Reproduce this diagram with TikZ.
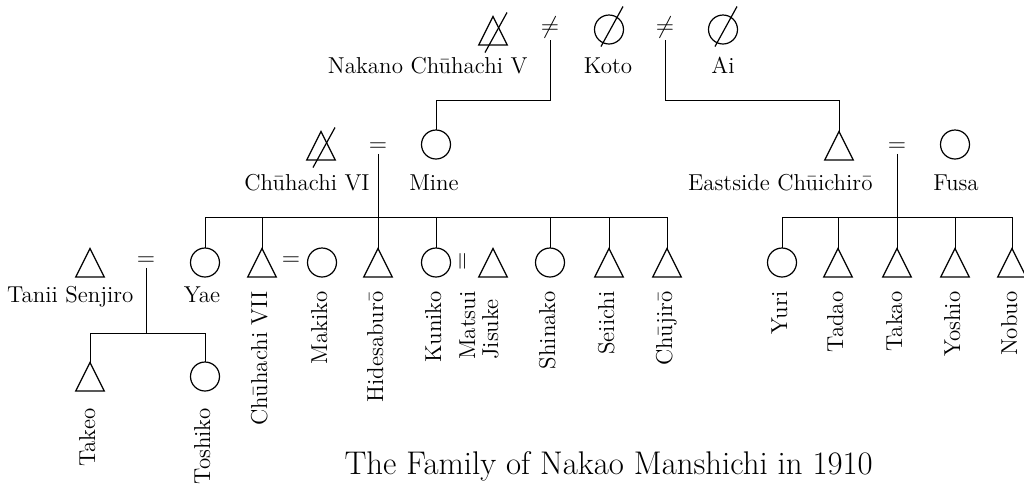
\documentclass[tikz,border=0pt]{standalone}
\usepackage{fontspec}
\usetikzlibrary{shapes.geometric}
\tikzset{fem/.style={circle,draw,line width=0.6pt,minimum size=14.5pt,inner sep=0pt,outer sep=0pt,anchor=south},
	male/.style={regular polygon,regular polygon sides=3,draw,line width=0.6pt,minimum size=16.5pt,yscale=1.15,inner sep=0pt,outer sep=0pt,anchor=south},
	nm/.style={font=\fontsize{11.5}{11.5}\selectfont,inner sep=0pt},
	vnm/.style={nm,rotate=90,anchor=east,align=left,text height=1.6ex,text depth=0.4ex},
	wed/.style={font=\fontsize{12}{12}\selectfont,inner sep=1pt}}

\begin{document}
\begin{tikzpicture}[x=0.5pt,y=-0.5pt,line width=0.5pt]
	\useasboundingbox (0,0) rectangle (1024,484);
	\def\deceased#1{\draw[line width=0.6pt] ([shift={(-8,17)}]#1.center) -- ([shift={(14,-23)}]#1.center);}
	% first generation
	\node[male] (nak) at (493,45) {};
	\node[wed] (w1) at (550,27) {$\neq$};
	\node[fem] (koto) at (609,44) {};
	\node[wed] (w2) at (665,27) {$\neq$};
	\node[fem] (ai) at (723,44) {};
	\deceased{nak} \deceased{koto} \deceased{ai}
	\node[nm,anchor=base east] (nak-l) at (528,73) {Nakano Chūhachi V};
	\node[nm,anchor=base] (koto-l) at (608,73) {Koto};
	\node[nm,anchor=base] (ai-l) at (723,73) {Ai};
	% second generation
	\node[male] (ch6) at (321,160) {};
	\node[wed] (w3) at (378,147) {$=$};
	\node[fem] (mine) at (436,159) {};
	\node[male] (east) at (839,160) {};
	\node[wed] (w4) at (897,147) {$=$};
	\node[fem] (fusa) at (955,159) {};
	\deceased{ch6}
	\node[nm,anchor=base east] (ch6-l) at (370,190) {Chūhachi VI};
	\node[nm,anchor=base] (mine-l) at (434,190) {Mine};
	\node[nm,anchor=base east] (east-l) at (873,190) {Eastside Chūichirō};
	\node[nm,anchor=base] (fusa-l) at (956,190) {Fusa};
	\coordinate (r1) at (0,100);
	\draw (w1.south) -- (w1.south |- r1) -| (mine.north);
	\draw (w2.south) -- (w2.south |- r1) -| (east.north);
	% third generation
	\node[male] (tanii) at (90,277) {};
	\node[wed] (w5) at (146,261) {$=$};
	\node[fem] (yae) at (205,277) {};
	\node[nm,anchor=base east] (tanii-l) at (134,302) {Tanii Senjiro};
	\node[nm,anchor=base] (yae-l) at (202,302) {Yae};
	\node[wed] (w6) at (291,261) {$=$};
	\node[wed,rotate=90] (w7) at (464,261) {$=$};
	\foreach \n/\x/\s/\t in {ch7/262/male/Chūhachi VII,maki/322/fem/Makiko,hide/378/male/Hidesaburō,
		kuni/436/fem/Kuniko,mats/493/male/{Matsui\\Jisuke},shin/550/fem/Shinako,sei/609/male/Seiichi,
		chuj/667/male/Chūjirō,yuri/782/fem/Yuri,tadao/838/male/Tadao,takao/897/male/Takao,
		yoshio/955/male/Yoshio,nobuo/1012/male/Nobuo}{
		\node[\s] (\n) at (\x,277) {};
		\node[vnm] (\n-l) at (\x,291) {\t};
	}
	\coordinate (s1) at (378,217);
	\coordinate (s2) at (897,217);
	\draw (w3.south) -- (s1);
	\foreach \c in {yae,ch7,hide,kuni,shin,sei,chuj} \draw (\c.north) |- (s1);
	\draw (w4.south) -- (s2);
	\foreach \c in {yuri,tadao,takao,yoshio,nobuo} \draw (\c.north) |- (s2);
	% fourth generation
	\node[male] (takeo) at (90,391) {};
	\node[fem] (toshi) at (205,391) {};
	\node[vnm] (takeo-l) at (90,408) {Takeo};
	\node[vnm] (toshi-l) at (205,408) {Toshiko};
	\coordinate (s3) at (146,333);
	\draw (w5.south) -- (s3);
	\foreach \c in {takeo,toshi} \draw (\c.north) |- (s3);
	% caption
	\node[font=\fontsize{16.4}{18}\selectfont,anchor=base west,inner sep=0pt] (title) at (344,474) {The Family of Nakao Manshichi in 1910};
\end{tikzpicture}
\end{document}
